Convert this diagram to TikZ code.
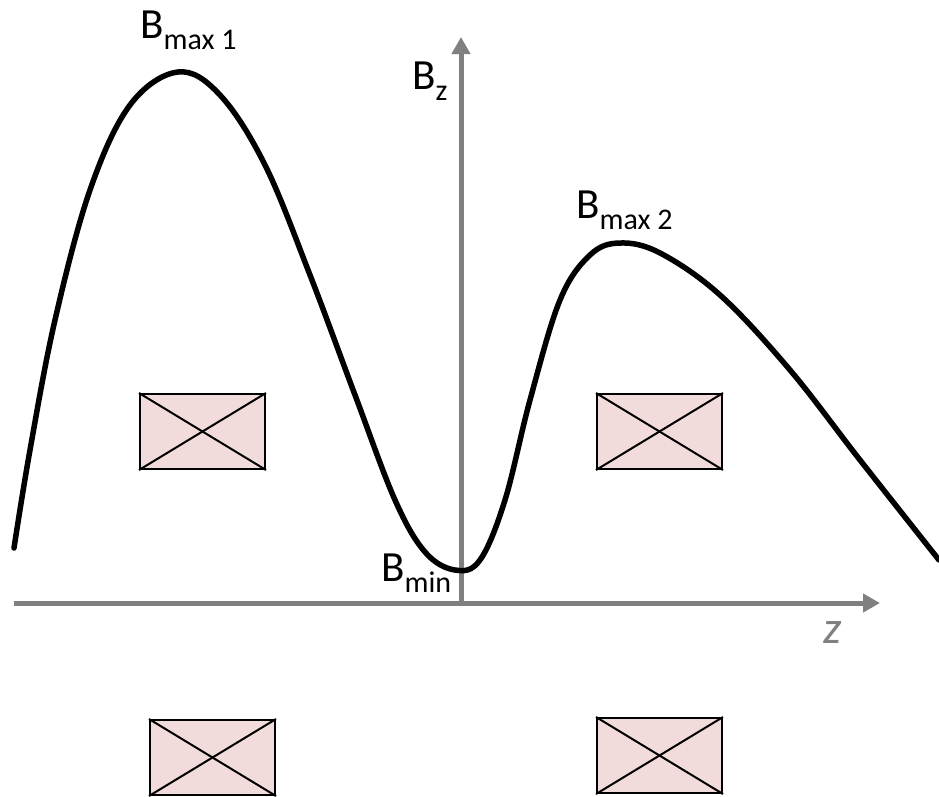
\documentclass[tikz,border=0pt]{standalone}
\usepackage{fontspec}
\setmainfont{Carlito}
\usetikzlibrary{arrows.meta}
\definecolor{axisgray}{RGB}{128,128,128}
\definecolor{coilpink}{RGB}{242,220,219}
\tikzset{
  axisline/.style={draw=axisgray, line width=5pt, -{Triangle[length=17pt,width=18pt]}},
  coil/.style={draw=black, line width=2pt, fill=coilpink, minimum width=125pt, minimum height=75pt, inner sep=0pt, anchor=north west},
  cross/.style={draw=black, line width=2pt},
  lbl/.style={inner sep=0pt, anchor=base west, font=\fontsize{43}{43}\selectfont},
  curve/.style={draw=black, line width=5.5pt, line join=round, line cap=round}
}
\newcommand{\mysub}[1]{{\fontsize{30}{30}\selectfont\raisebox{-11pt}{#1}}}
\begin{document}
\begin{tikzpicture}[x=1pt,y=-1pt]
\useasboundingbox (0,0) rectangle (939,796);
% coils
\node[coil] (c1) at (139,393) {};
\node[coil] (c2) at (596,393) {};
\node[coil] (c3) at (149,719) {};
\node[coil] (c4) at (596,717) {};
\foreach \c in {c1,c2,c3,c4}{
  \draw[cross] (\c.north west) -- (\c.south east);
  \draw[cross] (\c.south west) -- (\c.north east);
}
% axes
\coordinate (xs) at (14,603);
\coordinate (xe) at (880,603);
\coordinate (ys) at (461,606);
\coordinate (ye) at (461,37);
\draw[axisline] (xs) -- (xe);
\draw[axisline] (ys) -- (ye);
% curve
\draw[curve] plot[smooth, tension=0.6] coordinates {
 (14,548) (30,450) (55,320) (90,190) (130,105) (178,72) (220,95) (265,165)
 (310,275) (355,395) (395,500) (425,552) (455,570) (480,560) (505,500)
 (530,400) (560,300) (590,255) (620,243) (660,253) (720,295) (790,370)
 (860,460) (939,560)};
% labels
\node[lbl] (bmax1) at (140,38) {B\mysub{max 1}};
\node[lbl] (bz) at (412,89) {B\mysub{z}};
\node[lbl] (bmax2) at (576,218) {B\mysub{max 2}};
\node[lbl] (bmin) at (381,581) {B\mysub{min}};
\node[inner sep=0pt, anchor=base west, text=axisgray, font=\fontsize{46}{46}\selectfont\itshape] (zl) at (823,643) {z};
\end{tikzpicture}
\end{document}
